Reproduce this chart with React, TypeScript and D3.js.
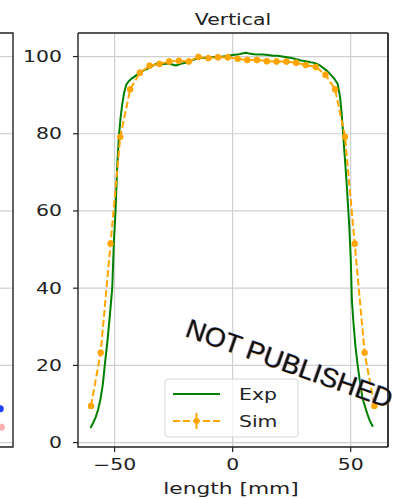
import React from "react";
import * as d3 from "d3";

// Measured profile (Exp) along the vertical axis
const expX = [
  -60.2, -59, -58, -57, -56, -55, -54, -53, -52, -51, -50.3, -49.6, -48.9, -48.2,
  -47.5, -46.8, -46, -45, -44, -43, -42, -40, -38, -36, -34, -32, -30, -28, -26,
  -24, -22, -20, -18, -16, -14, -12, -10, -8, -6, -4, -2, 0, 2, 4, 5.5, 7, 9, 11,
  13, 15, 17, 19, 21, 23, 25, 27, 29, 31, 33, 35, 37, 38.5, 40, 41.5, 43, 44.5,
  45.5, 46.2, 46.8, 47.5, 48.2, 48.8, 49.4, 50, 50.5, 51.2, 52, 52.8, 54, 55, 56,
  57, 58, 59.4,
];
const expY = [
  3.8, 5.2, 6.6, 8.5, 11.2, 15, 21, 26.5, 33, 40, 52, 60, 71.5, 79, 84, 87.5, 90.5,
  92.8, 93.6, 94.2, 94.6, 95.5, 96.3, 96.9, 97.6, 98.2, 98.0, 98.2, 98.0, 97.7,
  98.1, 98.4, 98.8, 99.3, 99.7, 99.6, 99.8, 99.9, 99.8, 100.0, 100.2, 100.4, 100.5,
  100.8, 101.0, 100.8, 100.6, 100.5, 100.5, 100.4, 100.2, 100.2, 100.0, 99.8, 99.6,
  99.3, 99.0, 98.8, 98.5, 98.3, 97.7, 97.0, 96.3, 95.3, 94.3, 92.9, 89.5, 85, 80,
  74, 68, 62, 56, 48, 37, 30.8, 25, 20.8, 15.3, 11.5, 9.5, 7.5, 5.8, 4.1,
];

// Simulated profile (Sim) with its uncertainty
const simX = [
  -60, -55.9, -51.7, -47.6, -43.4, -39.3, -35.2, -31.0, -26.9, -22.8, -18.6, -14.5,
  -10.3, -6.2, -2.1, 2.1, 6.2, 10.3, 14.5, 18.6, 22.8, 26.9, 31.0, 35.2, 39.3, 43.4,
  47.6, 51.7, 55.9, 60,
];
const simY = [
  9.5, 23.3, 51.6, 79.2, 91.5, 95.8, 97.6, 98.1, 98.7, 98.9, 98.7, 99.9, 99.6, 99.8,
  99.8, 99.4, 99.1, 99.1, 98.8, 98.7, 98.7, 98.4, 97.8, 97.3, 95.3, 91.5, 79.2, 51.5,
  23.3, 9.5,
];
const simErr = [
  0.8, 0.8, 0.8, 0.8, 0.8, 0.8, 0.8, 0.8, 0.8, 0.8, 0.8, 0.8, 0.8, 0.8, 0.8, 0.8,
  0.8, 0.8, 0.8, 0.8, 0.8, 0.8, 0.8, 0.8, 0.8, 0.8, 0.8, 0.8, 0.8, 0.8,
];

// Points of the neighbouring panel visible at its right edge
const sideX = [60.4, 60.9];
const sideY = [8.8, 4.0];
const sideColors = ["#1f3fff", "#ffb0b0"];

const xTicks = [-50, 0, 50];
const yTicks = [0, 20, 40, 60, 80, 100];
const legendLabels = ["Exp", "Sim"];

const title = "Vertical";
const xLabel = "length [mm]";
const watermark = "NOT PUBLISHED";

const W = 400;
const H = 499;
const frame = { left: 78, right: 388, top: 33, bottom: 447 };
const sideRight = 13;
const SX = 1.36; // horizontal text stretch
const FONT = "DejaVu Sans, sans-serif";
const GREEN = "#008000";
const ORANGE = "#ffa500";

function T({ x, y, anchor = "start", size = 15, children, fill = "#222" }: any) {
  return (
    <text
      transform={`translate(${x},${y}) scale(${SX},1)`}
      textAnchor={anchor}
      fontFamily={FONT}
      fontSize={size}
      fill={fill}
    >
      {children}
    </text>
  );
}

export default function App() {
  const x = d3.scaleLinear().domain([-65.5, 65.8]).range([frame.left, frame.right]);
  const y = d3.scaleLinear().domain([-1.14, 106.1]).range([frame.bottom, frame.top]);
  const span = frame.right - frame.left;
  const xSide = d3.scaleLinear().domain([-65.5, 65.8]).range([sideRight - span, sideRight]);
  const fmt = d3.format("d");

  const expLine = d3
    .line<number>()
    .x((_, i) => x(expX[i]))
    .y((d) => y(d));
  const simLine = d3
    .line<number>()
    .x((_, i) => x(simX[i]))
    .y((d) => y(d));

  const legX = 165;
  const legY = 379;
  const legW = 133;
  const legH = 58;
  const rowY = [394, 421];

  return (
    <svg
      width={W}
      height={H}
      viewBox={`0 0 ${W} ${H}`}
      style={{ position: "absolute", left: 0, top: 0, background: "#fff" }}
    >
      <rect x={0} y={0} width={W} height={H} fill="#fff" />

      {/* neighbouring panel: right edge only */}
      <g>
        {yTicks.map((t) => (
          <line key={t} x1={0} x2={sideRight} y1={y(t)} y2={y(t)} stroke="#cfcfcf" strokeWidth={1.2} />
        ))}
        {sideY.map((v, i) => (
          <circle key={i} cx={xSide(sideX[i])} cy={y(v)} r={3.5} fill={sideColors[i]} />
        ))}
        <path
          d={`M0,${frame.top}H${sideRight}V${frame.bottom}H0`}
          fill="none"
          stroke="#222"
          strokeWidth={1.4}
        />
      </g>

      {/* grid */}
      <g>
        {xTicks.map((t) => (
          <line key={t} x1={x(t)} x2={x(t)} y1={frame.top} y2={frame.bottom} stroke="#cfcfcf" strokeWidth={1.2} />
        ))}
        {yTicks.map((t) => (
          <line key={t} x1={frame.left} x2={frame.right} y1={y(t)} y2={y(t)} stroke="#cfcfcf" strokeWidth={1.2} />
        ))}
      </g>

      {/* Exp */}
      <path d={expLine(expY) || ""} fill="none" stroke={GREEN} strokeWidth={2} strokeLinejoin="round" />

      {/* Sim */}
      <path
        d={simLine(simY) || ""}
        fill="none"
        stroke={ORANGE}
        strokeWidth={2}
        strokeDasharray="7,3"
      />
      {simY.map((v, i) => (
        <g key={i}>
          <line
            x1={x(simX[i])}
            x2={x(simX[i])}
            y1={y(v - simErr[i])}
            y2={y(v + simErr[i])}
            stroke={ORANGE}
            strokeWidth={2}
          />
          <circle cx={x(simX[i])} cy={y(v)} r={3.2} fill={ORANGE} />
        </g>
      ))}

      {/* frame */}
      <path
        d={`M${frame.left},${frame.top}V${frame.bottom}H${frame.right}M${frame.left},${frame.top}H${frame.right}`}
        fill="none"
        stroke="#222"
        strokeWidth={1.4}
      />
      <line x1={frame.right} x2={frame.right} y1={frame.top} y2={frame.bottom} stroke="#222" strokeWidth={1.8} />

      {/* y axis */}
      {yTicks.map((t) => (
        <g key={t}>
          <line x1={frame.left - 5} x2={frame.left} y1={y(t)} y2={y(t)} stroke="#222" strokeWidth={1.2} />
          <T x={frame.left - 16} y={y(t) + 5.5} anchor="end">
            {fmt(t)}
          </T>
        </g>
      ))}

      {/* x axis */}
      {xTicks.map((t) => (
        <g key={t}>
          <line x1={x(t)} x2={x(t)} y1={frame.bottom} y2={frame.bottom + 5} stroke="#222" strokeWidth={1.2} />
          <T x={x(t)} y={470} anchor="middle">
            {fmt(t)}
          </T>
        </g>
      ))}

      <T x={(frame.left + frame.right) / 2} y={25} anchor="middle">
        {title}
      </T>
      <T x={(frame.left + frame.right) / 2 - 2} y={494} anchor="middle" size={16}>
        {xLabel}
      </T>

      {/* legend */}
      <g>
        <rect
          x={legX}
          y={legY}
          width={legW}
          height={legH}
          rx={3}
          fill="#fff"
          fillOpacity={0.8}
          stroke="#d6d6d6"
          strokeWidth={1}
        />
        <line x1={173} x2={220} y1={rowY[0]} y2={rowY[0]} stroke={GREEN} strokeWidth={2} />
        <line x1={173} x2={220} y1={rowY[1]} y2={rowY[1]} stroke={ORANGE} strokeWidth={2} strokeDasharray="7,3" />
        <line x1={196.5} x2={196.5} y1={rowY[1] - 8} y2={rowY[1] + 8} stroke={ORANGE} strokeWidth={2} />
        <circle cx={196.5} cy={rowY[1]} r={3} fill={ORANGE} />
        {legendLabels.map((l, i) => (
          <T key={l} x={239} y={rowY[i] + 5.5}>
            {l}
          </T>
        ))}
      </g>

      {/* watermark */}
      <g transform="translate(184,336) rotate(19.5)" fontFamily="Liberation Sans, Arial, sans-serif" fontSize={27}>
        <text x={-0.9} y={-0.3} fill="#3a7cff" fillOpacity={0.6}>
          {watermark}
        </text>
        <text x={0.9} y={0.3} fill="#ff9a2a" fillOpacity={0.6}>
          {watermark}
        </text>
        <text x={0} y={0} fill="#111">
          {watermark}
        </text>
      </g>
    </svg>
  );
}
